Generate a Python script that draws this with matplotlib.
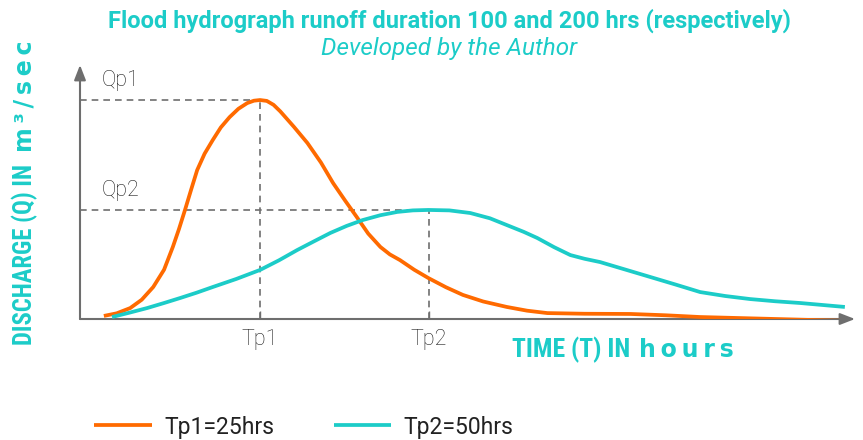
import matplotlib
matplotlib.use("Agg")
import matplotlib.pyplot as plt
from matplotlib import font_manager as fm

# ---- data (hours, discharge in % of Qp1) ----
tp1_x = [1.9, 3.8, 5.8, 7.5, 9.2, 10.8, 12.1, 13.0, 13.9, 14.8, 15.7, 16.8, 18.0, 19.2, 20.5, 21.8, 23.1, 24.1, 25.0,
         26.0, 27.0, 28.0, 30.0, 32.0, 34.0, 35.8, 37.6, 39.3, 41.0, 42.8, 44.2, 45.7, 47.8, 49.9, 52.5, 55.0, 58.0,
         61.5, 64.5, 67.5, 73.0, 79.8, 85.0, 90.1, 100.0, 110.8]
tp1_y = [1.4, 2.6, 5.0, 8.8, 14.6, 22.5, 32.9, 41.0, 49.8, 59.0, 68.0, 75.5, 81.7, 87.5, 92.2, 96.0, 98.6, 99.7, 100.0,
         99.6, 97.8, 94.8, 87.8, 80.4, 71.5, 62.1, 54.0, 46.6, 39.0, 32.9, 29.5, 26.9, 22.5, 18.7, 14.5, 11.0, 8.0,
         5.5, 3.8, 2.7, 2.4, 2.3, 1.7, 0.9, 0.1, -0.8]
tp2_x = [3.1, 5.7, 8.3, 10.8, 13.2, 15.6, 18.0, 21.5, 25.0, 27.8, 30.5, 33.0, 35.4, 37.8, 40.2, 42.8, 45.3, 47.6, 49.9,
         53.0, 56.1, 59.0, 61.5, 64.0, 66.0, 68.5, 70.9, 73.0, 75.3, 79.0, 82.7, 86.5, 90.1, 93.8, 97.5, 101.2,
         104.9, 108.2, 111.5]
tp2_y = [0.9, 2.9, 5.0, 7.3, 9.6, 12.0, 14.6, 18.3, 22.4, 26.8, 31.5, 35.5, 39.3, 42.5, 45.2, 47.4, 48.9, 49.6, 49.8,
         49.6, 48.4, 46.0, 42.9, 39.8, 37.0, 32.8, 29.2, 27.5, 26.0, 22.6, 19.2, 15.7, 12.3, 10.5, 9.1, 8.1,
         7.3, 6.4, 5.5]
tick_pos = [25, 50]
tick_labels = ["Tp1", "Tp2"]
peak_labels = ["Qp1", "Qp2"]
peak_vals = [100, 49.8]
legend_labels = ["Tp1=25hrs", "Tp2=50hrs"]

ORANGE = "#FF6A00"
TEAL = "#1CCCC8"
GRAY = "#6E6E6E"

# pick a condensed family if one exists
names = {f.name for f in fm.fontManager.ttflist}
cond_fam, cond_extra, ysize, xsize = ["Roboto", "DejaVu Sans"], {}, 14, 15
for cand in ["Roboto Condensed", "Liberation Sans Narrow", "Open Sans Condensed", "DejaVu Sans Condensed"]:
    if cand in names:
        cond_fam, ysize, xsize = [cand, "DejaVu Sans"], 17.7, 18.5
        break
else:
    if any(f.name == "DejaVu Sans" and f.stretch == "condensed" for f in fm.fontManager.ttflist):
        cond_fam, cond_extra, ysize, xsize = ["DejaVu Sans"], dict(fontstretch="condensed"), 15, 16

LIGHT = dict(family=["Roboto", "DejaVu Sans"], fontweight="light")

fig = plt.figure(figsize=(8.63, 4.40), dpi=100)
ax = fig.add_axes([80/863, (440-319)/440, 775/863, 254/440])
xmin, xmax = -1.63, 113.0
ymin, ymax = 0, 116
ax.set_xlim(xmin, xmax)
ax.set_ylim(ymin, ymax)
for s in ax.spines.values():
    s.set_visible(False)
ax.set_yticks([])
ax.set_xticks(tick_pos)
ax.set_xticklabels(tick_labels, fontsize=15.5, color="#1e1e1e", **LIGHT)
ax.tick_params(axis="x", direction="in", length=6, width=1, color=GRAY, pad=7)

# dashed guides
for tx, qv, ql in zip(tick_pos, peak_vals, peak_labels):
    ax.plot([xmin, tx], [qv, qv], ls=(0, (4, 3)), color=GRAY, lw=1.2, zorder=1)
    ax.plot([tx, tx], [0, qv], ls=(0, (4, 3)), color=GRAY, lw=1.2, zorder=1)
    ax.text(1.6, qv + 4.3, ql, fontsize=15.5, color="#1e1e1e", va="bottom", ha="left", **LIGHT)

l1, = ax.plot(tp1_x, tp1_y, color=ORANGE, lw=2.7, zorder=3, solid_capstyle="butt", solid_joinstyle="round")
l2, = ax.plot(tp2_x, tp2_y, color=TEAL, lw=2.7, zorder=3, solid_capstyle="butt", solid_joinstyle="round")

# axes arrows
ax.annotate("", xy=(xmax, 0), xytext=(xmin, 0),
            arrowprops=dict(arrowstyle="-|>,head_length=0.9,head_width=0.35", color=GRAY, lw=1.5,
                            shrinkA=0, shrinkB=0), annotation_clip=False, zorder=2)
ax.annotate("", xy=(xmin, ymax), xytext=(xmin, 0),
            arrowprops=dict(arrowstyle="-|>,head_length=0.9,head_width=0.35", color=GRAY, lw=1.5,
                            shrinkA=0, shrinkB=0), annotation_clip=False, zorder=2)

# titles
fig.text(449/863, 1 - 21/440, "Flood hydrograph runoff duration 100 and 200 hrs (respectively)",
         ha="center", va="center", color=TEAL, fontsize=17, fontweight="bold",
         family=["Roboto", "DejaVu Sans"])
fig.text(449/863, 1 - 48/440, "Developed by the Author", ha="center", va="center",
         color=TEAL, fontsize=17.5, style="italic", family=["Roboto", "DejaVu Sans"])

# axis labels
ts = "\u2009"
fig.text(25/863, 1 - 345/440, "DISCHARGE (Q) IN", rotation=90, ha="center", va="bottom",
         color=TEAL, fontweight="bold", family=cond_fam, fontsize=ysize, **cond_extra)
fig.text(25/863, 1 - 152/440, ts.join("m\u00b3/sec"), rotation=90, ha="center", va="bottom",
         color=TEAL, fontsize=17, fontweight="bold", family=["DejaVu Sans"])
fig.text(512/863, 1 - 350/440, "TIME (T) IN", ha="left", va="center",
         color=TEAL, fontweight="bold", family=cond_fam, fontsize=xsize, **cond_extra)
fig.text(639/863, 1 - 350/440, ts.join("hours"), ha="left", va="center",
         color=TEAL, fontsize=17, fontweight="bold", family=["DejaVu Sans"])

fig.legend([l1, l2], legend_labels, loc="center", bbox_to_anchor=(304/863, 1 - 427/440),
           ncol=2, frameon=False, handlelength=2.5, columnspacing=2.6,
           handletextpad=0.55, labelcolor="#222222",
           prop=dict(family=["Roboto", "DejaVu Sans"], size=16.5))

fig.savefig("out.png", dpi=100)
